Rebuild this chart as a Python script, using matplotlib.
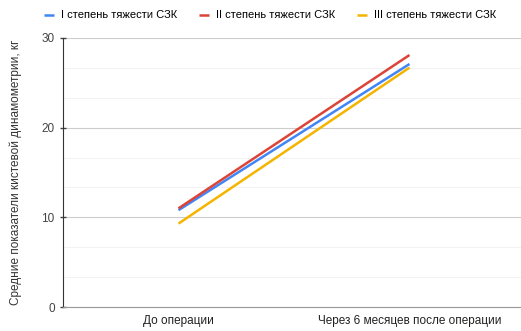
import matplotlib.pyplot as plt
from matplotlib.ticker import MultipleLocator

plt.rcParams['font.family'] = ['Liberation Sans', 'DejaVu Sans']

categories = ["До операции", "Через 6 месяцев после операции"]
series_names = ["I степень тяжести СЗК", "II степень тяжести СЗК", "III степень тяжести СЗК"]
grade1 = [10.8, 27.1]
grade2 = [11.0, 28.1]
grade3 = [9.3, 26.7]
colors = ["#4285F4", "#DB4437", "#F4B400"]

fig = plt.figure(figsize=(5.21, 3.31), dpi=100)
ax = fig.add_axes([63 / 521, 24 / 331, (525 - 63) / 521, (307 - 38) / 331])

xs = range(len(categories))
for vals, name, c in zip([grade1, grade2, grade3], series_names, colors):
    ax.plot(xs, vals, color=c, linewidth=1.8, label=name, solid_capstyle='butt')

ax.set_xlim(-0.5, 1.5)
ax.set_ylim(0, 30)
ax.set_xticks(list(xs))
ax.set_xticklabels(categories, fontsize=8.5, color="#222222")
ax.yaxis.set_major_locator(MultipleLocator(10))
ax.yaxis.set_minor_locator(MultipleLocator(10 / 3))
ax.tick_params(axis='y', labelsize=8.5, colors="#444444", length=5, direction='inout', width=1)
ax.tick_params(axis='y', which='minor', length=0)
ax.tick_params(axis='x', length=0, pad=6)
ax.grid(axis='y', which='major', color="#cccccc", linewidth=0.8)
ax.grid(axis='y', which='minor', color="#f0f0f0", linewidth=0.6)
ax.set_axisbelow(True)

for s in ['top', 'right']:
    ax.spines[s].set_visible(False)
ax.spines['left'].set_color('#333333')
ax.spines['bottom'].set_color('#999999')

ax.set_ylabel("Средние показатели кистевой динамометрии, кг", fontsize=8.5, color="#333333", labelpad=14)

ax.legend(loc='center', bbox_to_anchor=((270 - 63) / 462, 1 + (38 - 15) / 269), ncol=3, frameon=False,
          fontsize=8, handlelength=0.9, handleheight=0.3, columnspacing=2.0, handletextpad=0.6)

fig.savefig("out.png", dpi=100)
